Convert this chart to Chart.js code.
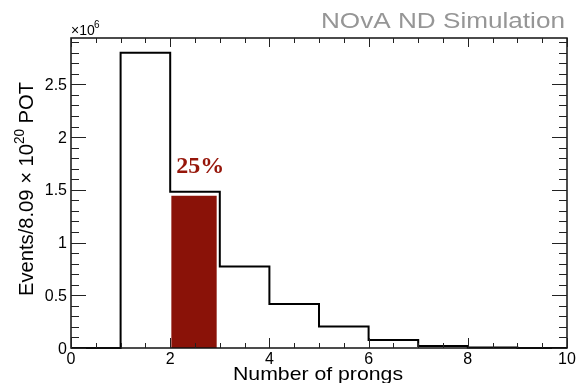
<!DOCTYPE html>
<html><head><meta charset="utf-8">
<script src="https://cdn.jsdelivr.net/npm/chart.js@4/dist/chart.umd.min.js"></script>
<style>html,body{margin:0;padding:0;background:#fff}canvas{display:block}</style>
</head><body>
<canvas id="c" width="576" height="383"></canvas>
<script>
// Data (values in units of 10^6 events)
const binEdges = [0, 1, 2, 3, 4, 5, 6, 7, 8, 9, 10];
const binCounts = [0, 2.80, 1.483, 0.773, 0.417, 0.205, 0.076, 0.019, 0.005, 0.001];
const highlightRange = [2.02, 2.94];
const highlightValue = 1.445;
const highlightLabel = '25%';
const xTickValues = [0, 2, 4, 6, 8, 10];
const xTickLabels = ['0', '2', '4', '6', '8', '10'];
const yTickValues = [0, 0.5, 1, 1.5, 2, 2.5];
const yTickLabels = ['0', '0.5', '1', '1.5', '2', '2.5'];
const chartTitle = 'NOvA ND Simulation';
const xTitle = 'Number of prongs';
const yTitleParts = ['Events/8.09 \u00d7 10', '20', ' POT'];

const histPoints = binCounts.map((v, i) => ({x: binEdges[i], y: v}));
histPoints.push({x: binEdges[binEdges.length - 1], y: binCounts[binCounts.length - 1]});
const highlightPoints = highlightRange.map(x => ({x: x, y: highlightValue}));

const SANS = '"Liberation Sans", Arial, Helvetica, sans-serif';

function fitText(ctx, text, x, y, targetW, align) {
  const w = ctx.measureText(text).width;
  const s = targetW / w;
  ctx.save();
  let x0 = x;
  if (align === 'center') x0 = x - targetW / 2;
  else if (align === 'right') x0 = x - targetW;
  ctx.translate(x0, y);
  ctx.scale(s, 1);
  ctx.textAlign = 'left';
  ctx.fillText(text, 0, 0);
  ctx.restore();
}

const rootStyle = {
  id: 'rootStyle',
  afterDatasetsDraw(chart) {
    const ctx = chart.ctx;
    const a = chart.chartArea;
    const xs = chart.scales.x, ys = chart.scales.y;
    ctx.save();
    // frame
    ctx.strokeStyle = '#111';
    ctx.lineWidth = 1.5;
    ctx.strokeRect(a.left, a.top, a.right - a.left, a.bottom - a.top);
    // x ticks (inward, bottom and top)
    ctx.lineWidth = 1;
    ctx.strokeStyle = '#222';
    for (let k = 0; k <= 20; k++) {
      const v = k * 0.5;
      const px = Math.round(xs.getPixelForValue(v)) + 0.5;
      const major = (k % 4 === 0);
      const lb = major ? 10 : 5;
      const lt = major ? 9 : 5;
      ctx.beginPath();
      ctx.moveTo(px, a.bottom); ctx.lineTo(px, a.bottom - lb);
      ctx.moveTo(px, a.top); ctx.lineTo(px, a.top + lt);
      ctx.stroke();
    }
    // y ticks (inward, left and right)
    for (let k = 0; k <= 29; k++) {
      const v = k * 0.1;
      if (v > ys.max) break;
      const py = Math.round(ys.getPixelForValue(v)) + 0.5;
      const major = (k % 5 === 0);
      const l = major ? 15 : 8;
      ctx.beginPath();
      ctx.moveTo(a.left, py); ctx.lineTo(a.left + l, py);
      ctx.moveTo(a.right, py); ctx.lineTo(a.right - l, py);
      ctx.stroke();
    }
    // tick labels
    ctx.fillStyle = '#000';
    ctx.font = '16px ' + SANS;
    ctx.textBaseline = 'alphabetic';
    ctx.textAlign = 'center';
    xTickValues.forEach((v, i) => {
      ctx.fillText(xTickLabels[i], xs.getPixelForValue(v), a.bottom + 16);
    });
    ctx.textAlign = 'right';
    yTickValues.forEach((v, i) => {
      ctx.fillText(yTickLabels[i], a.left - 4, ys.getPixelForValue(v) + 5.5);
    });
    // exponent
    ctx.textAlign = 'left';
    ctx.font = '14px ' + SANS;
    ctx.fillText('\u00d710', a.left, a.top - 3);
    ctx.font = '10px ' + SANS;
    ctx.fillText('6', a.left + 23, a.top - 10);
    // chart title
    ctx.fillStyle = 'rgb(150,150,150)';
    ctx.font = '22px ' + SANS;
    fitText(ctx, chartTitle, 321, 27.5, 244, 'left');
    // x title
    ctx.fillStyle = '#000';
    ctx.font = '18.5px ' + SANS;
    fitText(ctx, xTitle, (a.left + a.right) / 2 - 1, 380, 170, 'center');
    // y title (rotated)
    ctx.save();
    ctx.translate(33, 189);
    ctx.rotate(-Math.PI / 2);
    const f1 = '21px ' + SANS, f2 = '14px ' + SANS;
    ctx.font = f1; const w1 = ctx.measureText(yTitleParts[0]).width;
    ctx.font = f2; const w2 = ctx.measureText(yTitleParts[1]).width;
    ctx.font = f1; const w3 = ctx.measureText(yTitleParts[2]).width;
    const total = w1 + w2 + w3;
    const s = 214 / total;
    ctx.scale(s, 1);
    let x0 = -total / 2;
    ctx.textAlign = 'left';
    ctx.font = f1; ctx.fillText(yTitleParts[0], x0, 0);
    ctx.font = f2; ctx.fillText(yTitleParts[1], x0 + w1, -9);
    ctx.font = f1; ctx.fillText(yTitleParts[2], x0 + w1 + w2, 0);
    ctx.restore();
    // highlight label
    ctx.fillStyle = 'rgb(150,22,10)';
    ctx.font = 'bold 24px "Liberation Serif", "Times New Roman", serif';
    ctx.textAlign = 'left';
    ctx.fillText(highlightLabel, xs.getPixelForValue(highlightRange[0]) + 5, ys.getPixelForValue(highlightValue) - 23);
    ctx.restore();
  }
};

new Chart(document.getElementById('c'), {
  type: 'line',
  data: {
    datasets: [
      {
        label: 'prongs',
        data: histPoints,
        stepped: 'before',
        borderColor: '#000',
        borderWidth: 2,
        pointRadius: 0,
        fill: false,
        clip: false,
        order: 0
      },
      {
        label: 'highlight',
        data: highlightPoints,
        borderWidth: 0,
        borderColor: 'rgba(0,0,0,0)',
        backgroundColor: 'rgb(138,18,8)',
        fill: 'origin',
        pointRadius: 0,
        order: 1
      }
    ]
  },
  options: {
    responsive: false,
    animation: false,
    devicePixelRatio: 1,
    layout: {padding: {left: 71, right: 9, top: 38, bottom: 35}},
    plugins: {legend: {display: false}, tooltip: {enabled: false}, title: {display: false}},
    scales: {
      x: {type: 'linear', min: 0, max: 10, display: false},
      y: {type: 'linear', min: 0, max: 2.94, display: false}
    }
  },
  plugins: [rootStyle]
});
</script>
</body></html>
